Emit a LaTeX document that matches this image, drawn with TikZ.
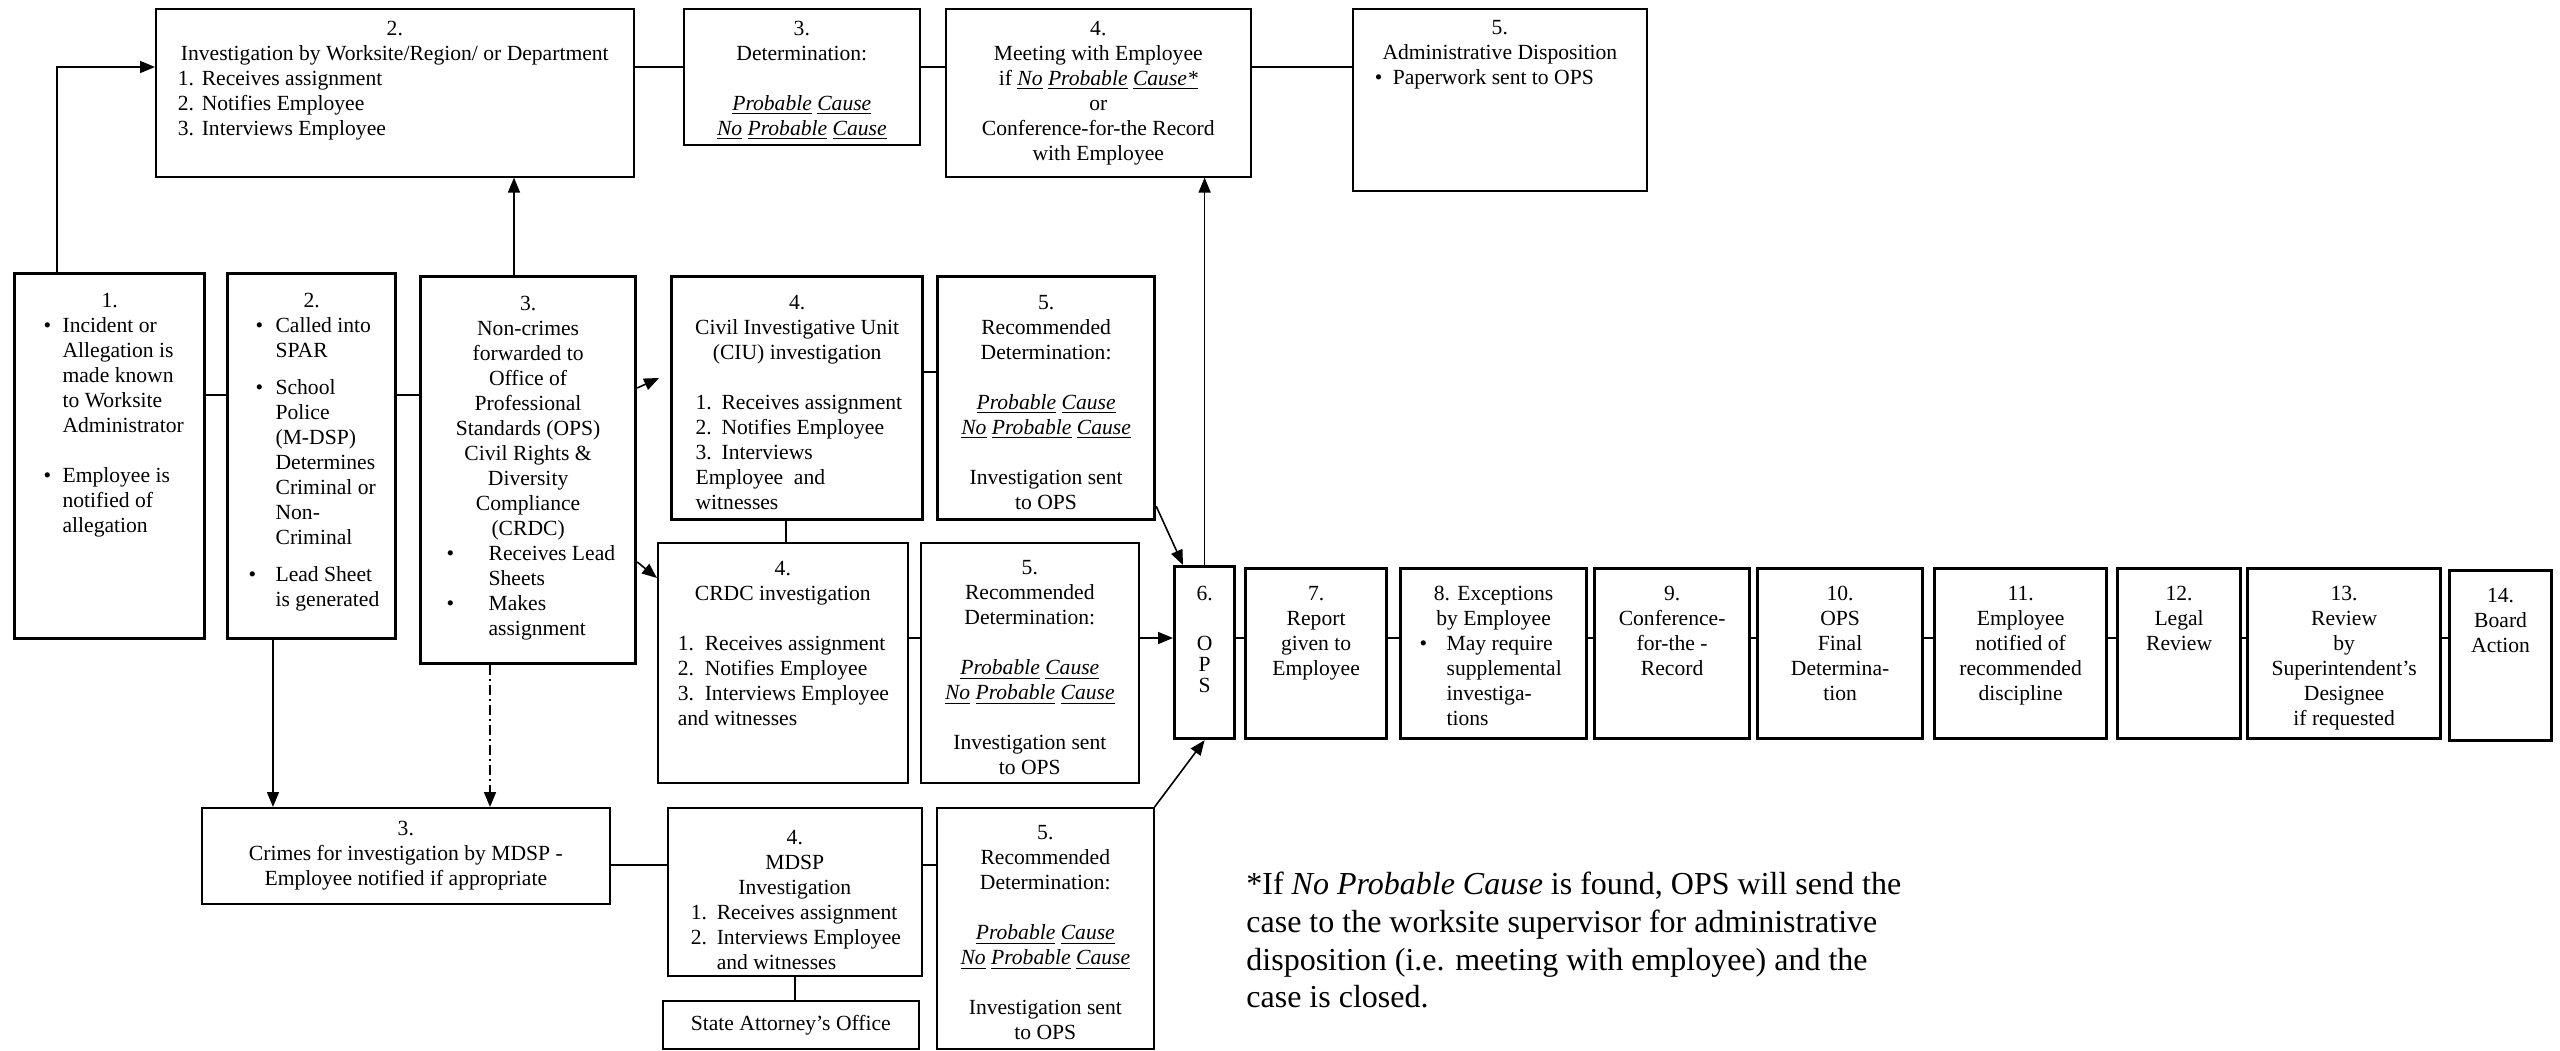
\documentclass[tikz,border=0pt]{standalone}
\usepackage{fontspec}
\setmainfont{Liberation Serif}
\usetikzlibrary{arrows.meta}

\newcommand{\uword}[1]{\underline{\textit{#1}}}
\newcommand{\pcause}{\uword{Probable} \uword{Cause}}
\newcommand{\npcause}{\uword{No} \uword{Probable} \uword{Cause}}
% frame width and height in px, text hangs from the top
\newcommand{\topbox}[4][0pt]{\parbox[c][\dimexpr#3pt/2-12pt\relax][t]{\dimexpr#2pt/2-8pt\relax}{\vspace*{#1}#4}}
% marker offset, text offset, marker, text
\newcommand{\nline}[4]{\par{\leftskip=#2\noindent\hspace*{\dimexpr#1-#2\relax}\makebox[\dimexpr#2-#1\relax][l]{#3}#4\par}}
\newcommand{\bline}[3]{\nline{#1}{#2}{\textbullet}{#3}}

\begin{document}
\begin{tikzpicture}[
x=0.5pt, y=-0.5pt,
box/.style={draw, line width=0.8pt, anchor=north west, inner xsep=4pt, inner ysep=6pt, font=\fontsize{10.8}{12.5}\selectfont},
boldbox/.style={box, line width=1.6pt},
conn/.style={line width=0.8pt},
arrow/.style={conn, -{Triangle[length=7.5pt, width=6pt]}},
dotdash/.style={dash pattern=on 5pt off 2pt on 1pt off 2pt}
]
\useasboundingbox (0,0) rectangle (2560,1050);
\fill[white] (0,0) rectangle (2560,1050);

% top row
\node[box] (t2) at (155,8) {\topbox{478}{168}{\centering 2.\\Investigation by Worksite/Region/ or Department\par\raggedright
\nline{7pt}{19pt}{1.}{Receives assignment}
\nline{7pt}{19pt}{2.}{Notifies Employee}
\nline{7pt}{19pt}{3.}{Interviews Employee}}};

\node[box] (t3) at (683,8) {\topbox{236}{136}{\centering 3.\\Determination:\\[\baselineskip]\pcause\\\npcause}};

\node[box] (t4) at (945,8) {\topbox{305}{168}{\centering 4.\\Meeting with Employee\\if \uword{No} \uword{Probable} \uword{Cause*}\\or\\Conference-for-the Record\\with Employee}};

\node[box] (t5) at (1352,8) {\topbox{294}{182}{\centering 5.\\Administrative Disposition\par\raggedright
\bline{7pt}{16pt}{Paperwork sent to OPS}}};

% middle row
\node[boldbox] (m1) at (13,272) {\topbox[4pt]{190}{365}{\centering 1.\par\raggedright
\bline{10.5pt}{20pt}{Incident or\\Allegation is\\made known\\to Worksite\\Administrator}
\vspace{\baselineskip}
\bline{10.5pt}{20pt}{Employee is\\notified of\\allegation}}};

\node[boldbox] (m2) at (226,272) {\topbox[4pt]{168}{365}{\centering 2.\par\raggedright
\bline{10pt}{20pt}{Called into\\SPAR}\vspace{6pt}
\bline{10pt}{20pt}{School\\Police\\(M-DSP)\\Determines\\Criminal or\\Non-\\Criminal}\vspace{6pt}
\bline{6.5pt}{20pt}{Lead Sheet\\is generated}}};

\node[boldbox] (m3) at (419,275) {\topbox[4pt]{215}{387}{\centering 3.\\Non-crimes\\forwarded to\\Office of\\Professional\\Standards (OPS)\\Civil Rights \&\\Diversity\\Compliance\\(CRDC)\par\raggedright
\bline{9pt}{30pt}{Receives Lead\\Sheets}
\bline{9pt}{30pt}{Makes\\assignment}}};

\node[boldbox] (ciu) at (670,275) {\topbox[3.5pt]{251}{243}{\centering 4.\\Civil Investigative Unit\\(CIU) investigation\\[\baselineskip]\raggedright
\nline{8pt}{21pt}{1.}{Receives assignment}
\nline{8pt}{21pt}{2.}{Notifies Employee}
{\leftskip=8pt\noindent\makebox[13pt][l]{3.}Interviews\\Employee\ \ and\\witnesses\par}}};

\node[boldbox] (r5a) at (936,275) {\topbox[3.5pt]{217}{243}{\centering 5.\\Recommended\\Determination:\\[\baselineskip]\pcause\\\npcause\\[\baselineskip]Investigation sent\\to OPS}};

\node[box] (crdc) at (657,542) {\topbox[3pt]{250}{240}{\centering 4.\\CRDC investigation\\[\baselineskip]\raggedright
\nline{6pt}{19.5pt}{1.}{Receives assignment}
\nline{6pt}{19.5pt}{2.}{Notifies Employee}
{\leftskip=6pt\noindent\makebox[13.5pt][l]{3.}Interviews Employee\\and witnesses\par}}};

\node[box] (r5b) at (920,542) {\topbox[3pt]{218}{240}{\centering 5.\\Recommended\\Determination:\\[\baselineskip]\pcause\\\npcause\\[\baselineskip]Investigation sent\\to OPS}};

% OPS row
\node[boldbox] (ops) at (1173,565) {\topbox[4pt]{60}{172}{\centering 6.\\[\baselineskip]O\\[-2pt]P\\[-2pt]S}};
\node[boldbox] (n7) at (1244,567) {\topbox[3pt]{141}{170}{\centering 7.\\Report\\given to\\Employee}};
\node[boldbox] (n8) at (1399,567) {\topbox[3pt]{186}{170}{\centering 8. Exceptions\\by Employee\par\raggedright
\bline{5.5pt}{19pt}{May require\\supplemental\\investiga-\\tions}}};
\node[boldbox] (n9) at (1593,567) {\topbox[3pt]{155}{170}{\centering 9.\\Conference-\\for-the -\\Record}};
\node[boldbox] (n10) at (1756,567) {\topbox[3pt]{165}{170}{\centering 10.\\OPS\\Final\\Determina-\\tion}};
\node[boldbox] (n11) at (1933,567) {\topbox[3pt]{172}{170}{\centering 11.\\Employee\\notified of\\recommended\\discipline}};
\node[boldbox] (n12) at (2116,567) {\topbox[3pt]{123}{170}{\centering 12.\\Legal\\Review}};
\node[boldbox] (n13) at (2246,567) {\topbox[3pt]{193}{170}{\centering 13.\\Review\\by\\Superintendent’s\\Designee\\if requested}};
\node[boldbox] (n14) at (2448,569) {\topbox[3pt]{102}{170}{\centering 14.\\Board\\Action}};

% bottom row
\node[box, minimum width=204pt, minimum height=48pt, align=center] (b3) at (201,807)
{3.\\Crimes for investigation by MDSP -\\Employee notified if appropriate};

\node[box] (b4) at (667,807) {\topbox[5pt]{254}{168}{\centering 4.\\MDSP\\Investigation\par\raggedright
\nline{7.5pt}{20.5pt}{1.}{Receives assignment}
\nline{7.5pt}{20.5pt}{2.}{Interviews Employee\\and witnesses}}};

\node[box, minimum width=128pt, minimum height=24pt] (sao) at (662,1000) {State Attorney’s Office};

\node[box] (b5) at (936,807) {\topbox[3pt]{217}{241}{\centering 5.\\Recommended\\Determination:\\[\baselineskip]\pcause\\\npcause\\[\baselineskip]Investigation sent\\to OPS}};

\node[anchor=north west, inner sep=0pt, align=left, font=\fontsize{16}{18.8}\selectfont] (note) at (1246,872)
{*If \textit{No Probable Cause} is found, OPS will send the\\
case to the worksite supervisor for administrative\\
disposition (i.e. meeting with employee) and the\\
case is closed.};

% connectors
\coordinate (toprow) at (0,67);
\coordinate (midrow) at (0,395);
\coordinate (opsrow) at (0,638);
\coordinate (botrow) at (0,865);

\draw[arrow] ([xshift=22pt]m1.north west) |- (toprow -| t2.west);
\draw[conn] (toprow -| t2.east) -- (toprow -| t3.west);
\draw[conn] (toprow -| t3.east) -- (toprow -| t4.west);
\draw[conn] (toprow -| t4.east) -- (toprow -| t5.west);

\draw[conn] (midrow -| m1.east) -- (midrow -| m2.west);
\draw[conn] (midrow -| m2.east) -- (midrow -| m3.west);
\draw[arrow] ([xshift=47.5pt]m3.north west) -- ([xshift=179.5pt]t2.south west);
\draw[arrow, shorten >=6pt] ([yshift=-56.5pt]m3.north east) -- ([yshift=-49pt]ciu.north west);
\draw[arrow] ([yshift=-143.5pt]m3.north east) -- ([yshift=-18pt]crdc.north west);
\draw[conn] ([yshift=-48.5pt]ciu.north east) -- ([yshift=-48.5pt]r5a.north west);
\draw[conn] ([xshift=58pt]ciu.south west) -- ([xshift=64.5pt]crdc.north west);
\draw[arrow] ([yshift=7.5pt]r5a.south east) -- ([xshift=5pt]ops.north west);
\draw[conn] (opsrow -| crdc.east) -- (opsrow -| r5b.west);
\draw[arrow] (opsrow -| r5b.east) -- (opsrow -| ops.west);
\draw[arrow] (ops.north) -- (ops.north |- t4.south);

\foreach \a/\b in {ops/n7, n7/n8, n8/n9, n9/n10, n10/n11, n11/n12, n12/n13, n13/n14}
  \draw[conn] (opsrow -| \a.east) -- (opsrow -| \b.west);

\draw[arrow] ([xshift=23.5pt]m2.south west) -- ([xshift=36pt]b3.north west);
\draw[arrow, dotdash] ([xshift=35.5pt]m3.south west) -- ([xshift=144.5pt]b3.north west);
\draw[conn] (botrow -| b3.east) -- (botrow -| b4.west);
\draw[conn] (botrow -| b4.east) -- (botrow -| b5.west);
\draw[conn] (b4.south) -- (b4.south |- sao.north);
\draw[arrow] (b5.north east) -- (ops.south);

\end{tikzpicture}
\end{document}
